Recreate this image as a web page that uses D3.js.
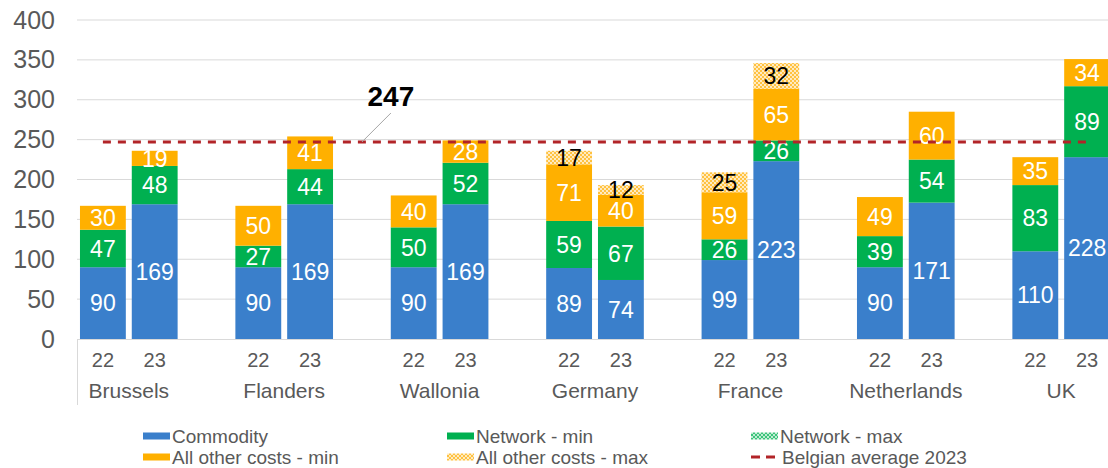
<!DOCTYPE html>
<html>
<head>
<meta charset="utf-8">
<script src="https://cdn.jsdelivr.net/npm/d3@7"></script>
<style>
  body { margin: 0; background: #fff; }
  svg { display: block; font-family: "Liberation Sans", Arial, sans-serif; }
</style>
</head>
<body>
<svg id="chart" width="1108" height="468"></svg>
<script>
// data
const groups = ["Brussels", "Flanders", "Wallonia", "Germany", "France", "Netherlands", "UK"];
const years = ["22", "23"];
const commodity  = [90, 169, 90, 169, 90, 169, 89, 74, 99, 223, 90, 171, 110, 228];
const networkMin = [47, 48, 27, 44, 50, 52, 59, 67, 26, 26, 39, 54, 83, 89];
const networkMax = [0, 0, 0, 0, 0, 0, 0, 0, 0, 0, 0, 0, 0, 0];
const otherMin   = [30, 19, 50, 41, 40, 28, 71, 40, 59, 65, 49, 60, 35, 34];
const otherMax   = [0, 0, 0, 0, 0, 0, 17, 12, 25, 32, 0, 0, 0, 0];
const belgianAvg = 247;
const yTicks = [0, 50, 100, 150, 200, 250, 300, 350, 400];

const series = [
    { key: "commodity", name: "Commodity", values: commodity, fill: "#3A7FCB", text: "#fff" },
    { key: "netMin", name: "Network - min", values: networkMin, fill: "#00B050", text: "#fff" },
    { key: "netMax", name: "Network - max", values: networkMax, fill: "url(#patGreen)", text: "#000" },
    { key: "othMin", name: "All other costs - min", values: otherMin, fill: "#FFB000", text: "#fff" },
    { key: "othMax", name: "All other costs - max", values: otherMax, fill: "url(#patYellow)", text: "#000" }
];

const svg = d3.select("#chart");
const GREY = "#595959";

// patterns
const defs = svg.append("defs");
const makePattern = (id, base, dot) => {
    const p = defs.append("pattern").attr("id", id)
        .attr("patternUnits", "userSpaceOnUse").attr("width", 4).attr("height", 4);
    p.append("rect").attr("width", 4).attr("height", 4).attr("fill", base);
    p.append("circle").attr("cx", 1).attr("cy", 1).attr("r", 0.9).attr("fill", dot);
    p.append("circle").attr("cx", 3).attr("cy", 3).attr("r", 0.9).attr("fill", dot);
};
makePattern("patYellow", "#FFC240", "#fff");
makePattern("patGreen", "#3CC47A", "#fff");

// slots: 22, 23, blank per group (no trailing blank)
const slots = [];
const bars = [];
groups.forEach((g, gi) => {
    years.forEach((y, yi) => {
        slots.push(g + "|" + y);
        bars.push({ group: g, year: y, slot: g + "|" + y, idx: gi * 2 + yi });
    });
    if (gi < groups.length - 1) slots.push(g + "|blank");
});

const LEFT = 77, BOTTOM = 339, TOP = 20;
const x = d3.scaleBand().domain(slots)
    .range([LEFT, LEFT + slots.length * 51.8])
    .paddingInner(0.115).paddingOuter(0.0575);
const y = d3.scaleLinear().domain([0, 400]).range([BOTTOM, TOP]);

// gridlines
svg.append("g").selectAll("line").data(yTicks.filter(d => d > 0)).join("line")
    .attr("x1", LEFT).attr("x2", 1108)
    .attr("y1", d => y(d)).attr("y2", d => y(d))
    .attr("stroke", "#D9D9D9").attr("stroke-width", 1);

// y axis labels
const yAxis = d3.axisLeft(y).tickValues(yTicks).tickSize(0).tickPadding(0);
const yg = svg.append("g").attr("transform", "translate(55,0)").call(yAxis);
yg.select(".domain").remove();
yg.selectAll("text").attr("font-size", 25).attr("fill", GREY)
    .attr("font-family", "'Liberation Sans', Arial, sans-serif");

// x axis line + left boundary
svg.append("line").attr("x1", LEFT).attr("x2", 1108).attr("y1", BOTTOM + 0.5).attr("y2", BOTTOM + 0.5)
    .attr("stroke", "#D9D9D9");
svg.append("line").attr("x1", LEFT + 0.5).attr("x2", LEFT + 0.5).attr("y1", BOTTOM).attr("y2", 405)
    .attr("stroke", "#D9D9D9");

// stacked bars
const stackRows = bars.map(b => {
    const row = { slot: b.slot };
    series.forEach(s => { row[s.key] = s.values[b.idx]; });
    return row;
});
const stacked = d3.stack().keys(series.map(s => s.key))(stackRows);

stacked.forEach((layer, li) => {
    const s = series[li];
    const g = svg.append("g");
    g.selectAll("rect").data(layer.filter(d => d[1] - d[0] > 0)).join("rect")
        .attr("x", d => x(d.data.slot))
        .attr("width", x.bandwidth())
        .attr("y", d => y(d[1]))
        .attr("height", d => y(d[0]) - y(d[1]))
        .attr("fill", s.fill);
});

// segment labels (drawn after all rects)
stacked.forEach((layer, li) => {
    const s = series[li];
    svg.append("g").selectAll("text").data(layer.filter(d => d[1] - d[0] > 0)).join("text")
        .attr("x", d => x(d.data.slot) + x.bandwidth() / 2)
        .attr("y", d => (y(d[0]) + y(d[1])) / 2)
        .attr("dy", "0.36em")
        .attr("text-anchor", "middle")
        .attr("font-size", 23)
        .attr("fill", s.text)
        .text(d => d[1] - d[0]);
});

// Belgian average line
const firstC = x(slots[0]) + x.bandwidth() / 2;
const lastC = x(slots[slots.length - 1]) + x.bandwidth() / 2;
svg.append("line")
    .attr("x1", firstC).attr("x2", lastC)
    .attr("y1", y(belgianAvg)).attr("y2", y(belgianAvg))
    .attr("stroke", "#B22428").attr("stroke-width", 3)
    .attr("stroke-dasharray", "8,7");

// callout on the average line
const calloutX = x(slots[5]) + x.bandwidth() / 2;
svg.append("line")
    .attr("x1", calloutX).attr("y1", y(belgianAvg))
    .attr("x2", calloutX + 29).attr("y2", y(belgianAvg) - 29)
    .attr("stroke", "#A6A6A6").attr("stroke-width", 1);
svg.append("text")
    .attr("x", calloutX + 29).attr("y", y(belgianAvg) - 36)
    .attr("text-anchor", "middle")
    .attr("font-size", 28).attr("font-weight", "bold").attr("fill", "#000")
    .text(belgianAvg);

// x labels: years and groups
svg.append("g").selectAll("text").data(bars).join("text")
    .attr("x", d => x(d.slot) + x.bandwidth() / 2)
    .attr("y", 367)
    .attr("text-anchor", "middle").attr("font-size", 20).attr("fill", GREY)
    .text(d => d.year);

svg.append("g").selectAll("text").data(groups).join("text")
    .attr("x", g => (x(g + "|22") + x(g + "|23") + x.bandwidth()) / 2)
    .attr("y", 398)
    .attr("text-anchor", "middle").attr("font-size", 21).attr("fill", GREY)
    .text(g => g);

// legend
const legendItems = [
    { name: "Commodity", fill: "#3A7FCB", col: 0, row: 0 },
    { name: "Network - min", fill: "#00B050", col: 1, row: 0 },
    { name: "Network - max", fill: "url(#patGreen)", col: 2, row: 0 },
    { name: "All other costs - min", fill: "#FFB000", col: 0, row: 1 },
    { name: "All other costs - max", fill: "url(#patYellow)", col: 1, row: 1 },
    { name: "Belgian average 2023", dash: true, col: 2, row: 1 }
];
const colX = [143, 447, 751];
const rowY = [436, 457];
const lg = svg.append("g").selectAll("g").data(legendItems).join("g")
    .attr("transform", d => `translate(${colX[d.col]},${rowY[d.row]})`);
lg.filter(d => !d.dash).append("rect")
    .attr("x", 0).attr("y", -3.5).attr("width", 27).attr("height", 7)
    .attr("fill", d => d.fill);
lg.filter(d => d.dash).append("line")
    .attr("x1", 0).attr("x2", 28).attr("y1", 0).attr("y2", 0)
    .attr("stroke", "#B22428").attr("stroke-width", 3).attr("stroke-dasharray", "9,6");
lg.append("text")
    .attr("x", d => d.dash ? 31 : 29).attr("y", 0).attr("dy", "0.36em")
    .attr("font-size", 19).attr("fill", GREY)
    .text(d => d.name);
</script>
</body>
</html>
